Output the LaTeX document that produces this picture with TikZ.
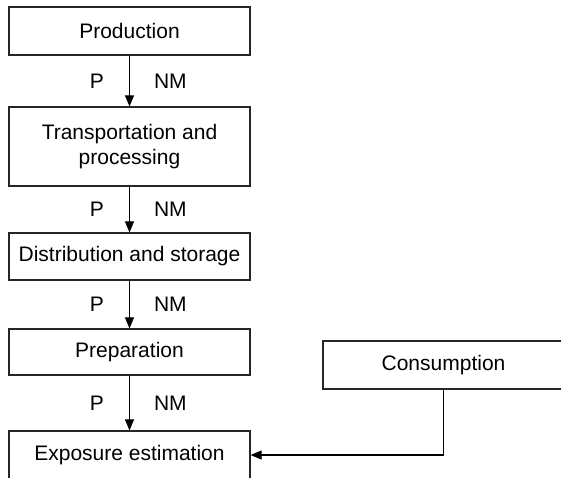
\documentclass[tikz,border=0pt]{standalone}
\usepackage{fontspec}
\setmainfont{Liberation Sans}
\usetikzlibrary{arrows.meta}
\begin{document}
\begin{tikzpicture}[x=1pt,y=-1pt,
  box/.style={draw=black!85,line width=1.2pt,minimum width=241pt,minimum height=48pt,inner sep=0pt,font=\fontsize{21}{25}\selectfont,align=center},
  flow/.style={line width=1.1pt,-{Triangle[width=9pt,length=11pt]}},
  lbl/.style={inner sep=0pt,font=\fontsize{21}{25}\selectfont}]
\useasboundingbox (0,0) rectangle (561,477);
\node[box] (prod) at (129.5,31) {Production};
\node[box,minimum height=79pt] (trans) at (129.5,146.5) {Transportation and\\processing};
\node[box,minimum height=47pt] (dist) at (129.5,256.5) {Distribution and storage};
\node[box,minimum height=46pt] (prep) at (129.5,352) {Preparation};
\node[box] (expo) at (129.5,455) {Exposure estimation};
\node[box] (cons) at (443.5,365) {Consumption};
\draw[flow] (prod) -- node[lbl,left=25pt]{P} node[lbl,right=24pt]{NM} (trans);
\draw[flow] (trans) -- node[lbl,left=25pt]{P} node[lbl,right=24pt]{NM} (dist);
\draw[flow] (dist) -- node[lbl,left=25pt]{P} node[lbl,right=24pt]{NM} (prep);
\draw[flow] (prep) -- node[lbl,left=25pt]{P} node[lbl,right=24pt]{NM} (expo);
\draw[flow] (cons.south) |- (expo.east);
\end{tikzpicture}
\end{document}
